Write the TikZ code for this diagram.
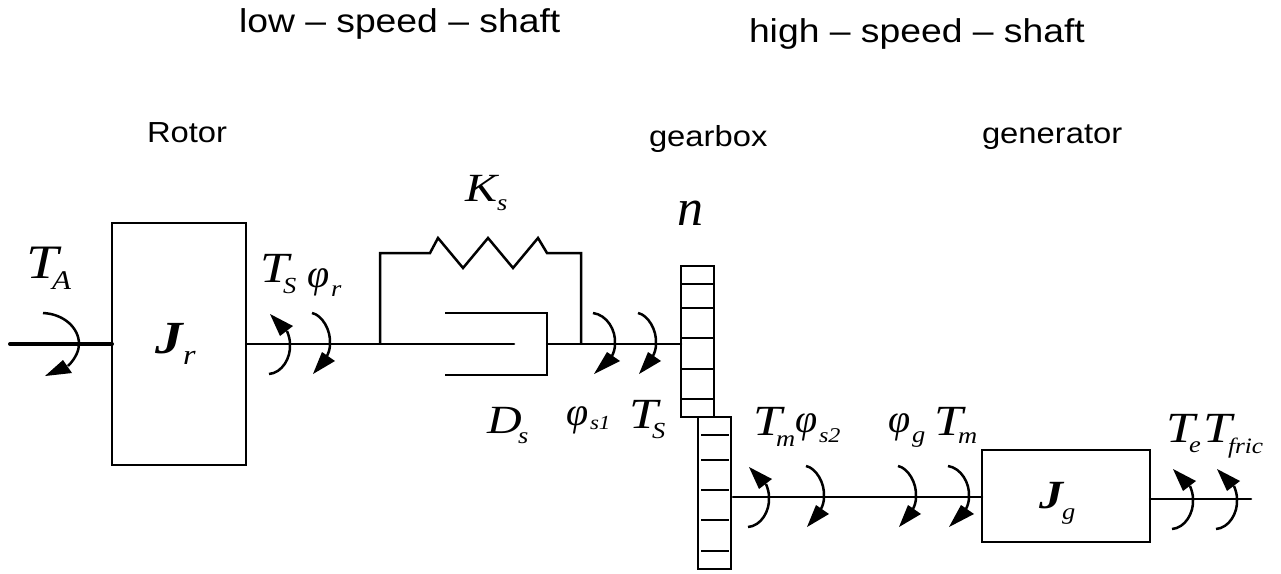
\documentclass[tikz,border=0pt]{standalone}
\usepackage{fontspec}
\setmainfont[FakeStretch=1.13]{Liberation Sans}
\newfontfamily\timesfam[FakeStretch=1.2]{Liberation Serif}
\newfontfamily\timesplain{Liberation Serif}
\newfontfamily\timessub[FakeStretch=1.15]{Liberation Serif}
\newcommand{\hd}[1]{\fontsize{#1}{#1}\selectfont}
\tikzset{
 x=1pt,y=-1pt,
 wire/.style={line width=2.5pt,line cap=round,line join=miter},
 thinw/.style={line width=1.5pt},
 head/.style={fill=black,draw=none},
 boxed/.style={draw,line width=2.5pt,inner sep=0pt,outer sep=0pt},
 capt/.style={anchor=base west,inner sep=0pt,outer sep=0pt,font=\hd{#1}},
 capt/.default=29,
 bigsym/.style={anchor=base west,inner sep=0pt,outer sep=0pt,font={\timesfam\itshape\fontsize{#1}{#1}\selectfont}},
 bigsym/.default=43,
 phisym/.style={anchor=base west,inner sep=0pt,outer sep=0pt,font={\timesplain\itshape\fontsize{40}{40}\selectfont}},
 subsym/.style={anchor=base west,inner sep=0pt,outer sep=0pt,font={\timessub\itshape\fontsize{#1}{#1}\selectfont}},
 subsym/.default=23
}
\newcommand{\rotdn}[3]{%
 \draw[wire,line cap=butt] (#1-#3,#2-31) .. controls (#1-8,#2-29) and (#1+1,#2-14) .. (#1,#2) .. controls (#1,#2+4) and (#1-1,#2+8) .. (#1-3,#2+12);
 \fill[head] (#1-8,#2+8) -- (#1+5,#2+17) -- (#1-#3+1,#2+30) -- cycle;}
\newcommand{\rotup}[3]{%
 \draw[wire,line cap=butt] (#1-#3,#2+30) .. controls (#1-8,#2+29) and (#1+1,#2+14) .. (#1,#2) .. controls (#1,#2-4) and (#1-1,#2-8) .. (#1-3,#2-13);
 \fill[head] (#1-10,#2-8) -- (#1+3,#2-18) -- (#1-#3+1,#2-30) -- cycle;}
\begin{document}
\begin{tikzpicture}
\useasboundingbox (0,0) rectangle (1281,573);
% rotor
\node[boxed,minimum width=134pt,minimum height=242pt] (rotor) at (179,344) {};
\coordinate (tain) at (10,344);
\draw[line width=4pt,line cap=round] (tain) -- (rotor.west);
\coordinate (bl) at (380,344);
\coordinate (br) at (581,344);
\coordinate (pist) at (514,344);
\coordinate (dam) at (547,344);
\draw[wire] (rotor.east) -- (pist);
% spring
\draw[wire,line cap=butt] (bl) -- (380,253) -- (430,253) -- (438,238) -- (463,268) -- (488,238) -- (513,268) -- (538,238) -- (547,253) -- (581,253) -- (br);
% damper
\draw[wire,line cap=butt] (445,313) -- (547,313) -- (547,375) -- (445,375);
% gears
\node[boxed,minimum width=33pt,minimum height=151pt] (g1) at (697.5,341.5) {};
\node[boxed,minimum width=33pt,minimum height=152pt] (g2) at (714.5,493) {};
\foreach \yy in {284,308,338,369,399} \draw[thinw] (681,\yy) -- (714,\yy);
\foreach \yy in {435,460,490,520,551} \draw[thinw] (701,\yy) -- (729,\yy);
\draw[wire] (dam) -- (dam -| g1.west);
% generator
\node[boxed,minimum width=168pt,minimum height=92pt] (gen) at (1066,496) {};
\coordinate (hs) at (733,497);
\coordinate (genr) at (1150,499);
\coordinate (end) at (1251,499);
\draw[wire] (hs) -- (hs -| gen.west);
\draw[wire] (genr) -- (end);
% torque arcs
\draw[wire,line cap=butt] (43,313) .. controls (64,314) and (79,328) .. (79,344) .. controls (79,350) and (76,358) .. (68,366);
\fill[head] (63,360) -- (72,373) -- (45,376) -- cycle;
\rotup{290}{344}{21}
\rotdn{330}{344}{18}
\rotdn{615}{344}{22}
\rotdn{656}{344}{18}
\rotup{769}{497}{21}
\rotdn{824}{497}{18}
\rotdn{916}{497}{18}
\rotdn{969}{497}{21}
\rotup{1193}{499}{21}
\rotup{1237}{499}{21}
% captions
\node[capt=33] (c1) at (239,32) {low -- speed -- shaft};
\node[capt=33] (c2) at (749,42) {high -- speed -- shaft};
\node[capt] (c3) at (147,142) {Rotor};
\node[capt] (c4) at (649,146) {gearbox};
\node[capt] (c5) at (982,143) {generator};
% symbols
\node[bigsym=48] (a1) at (26,278) {T}; \node[subsym=27] (a2) at (52,289) {A};
\node[bigsym] (b1) at (260,282) {T}; \node[subsym] (b2) at (283,293) {S};
\node[phisym] (b3) at (307,287) {φ}; \node[subsym] (b4) at (331,296) {r};
\node[bigsym,font={\timesfam\bfseries\itshape\fontsize{46}{46}\selectfont}] (j1) at (155,353) {J}; \node[subsym=28] (j2) at (183,364) {r};
\node[bigsym=40] (k1) at (465,201) {K}; \node[subsym] (k2) at (497,210) {s};
\node[bigsym,font={\timesplain\itshape\fontsize{52}{52}\selectfont}] (n1) at (677,225) {n};
\node[bigsym=40] (d1) at (487,433) {D}; \node[subsym] (d2) at (518,443) {s};
\node[phisym] (p1) at (566,425) {φ}; \node[subsym=20] (p2) at (590,429) {s1};
\node[bigsym] (t1) at (629,428) {T}; \node[subsym] (t2) at (652,438) {S};
\node[bigsym] (t3) at (753,435) {T}; \node[subsym] (t4) at (776,446) {m};
\node[phisym] (p3) at (795,432) {φ}; \node[subsym=21] (p4) at (819,442) {s2};
\node[phisym] (p5) at (888,432) {φ}; \node[subsym] (p6) at (912,442) {g};
\node[bigsym] (t5) at (934,435) {T}; \node[subsym] (t6) at (958,443) {m};
\node[bigsym,font={\timesfam\bfseries\itshape\fontsize{40}{40}\selectfont}] (j3) at (1039,508) {J}; \node[subsym] (j4) at (1062,519) {g};
\node[bigsym] (t7) at (1166,442) {T}; \node[subsym] (t8) at (1189,452) {e};
\node[bigsym] (t9) at (1203,442) {T}; \node[subsym=22] (t10) at (1228,453) {fric};
\end{tikzpicture}
\end{document}
